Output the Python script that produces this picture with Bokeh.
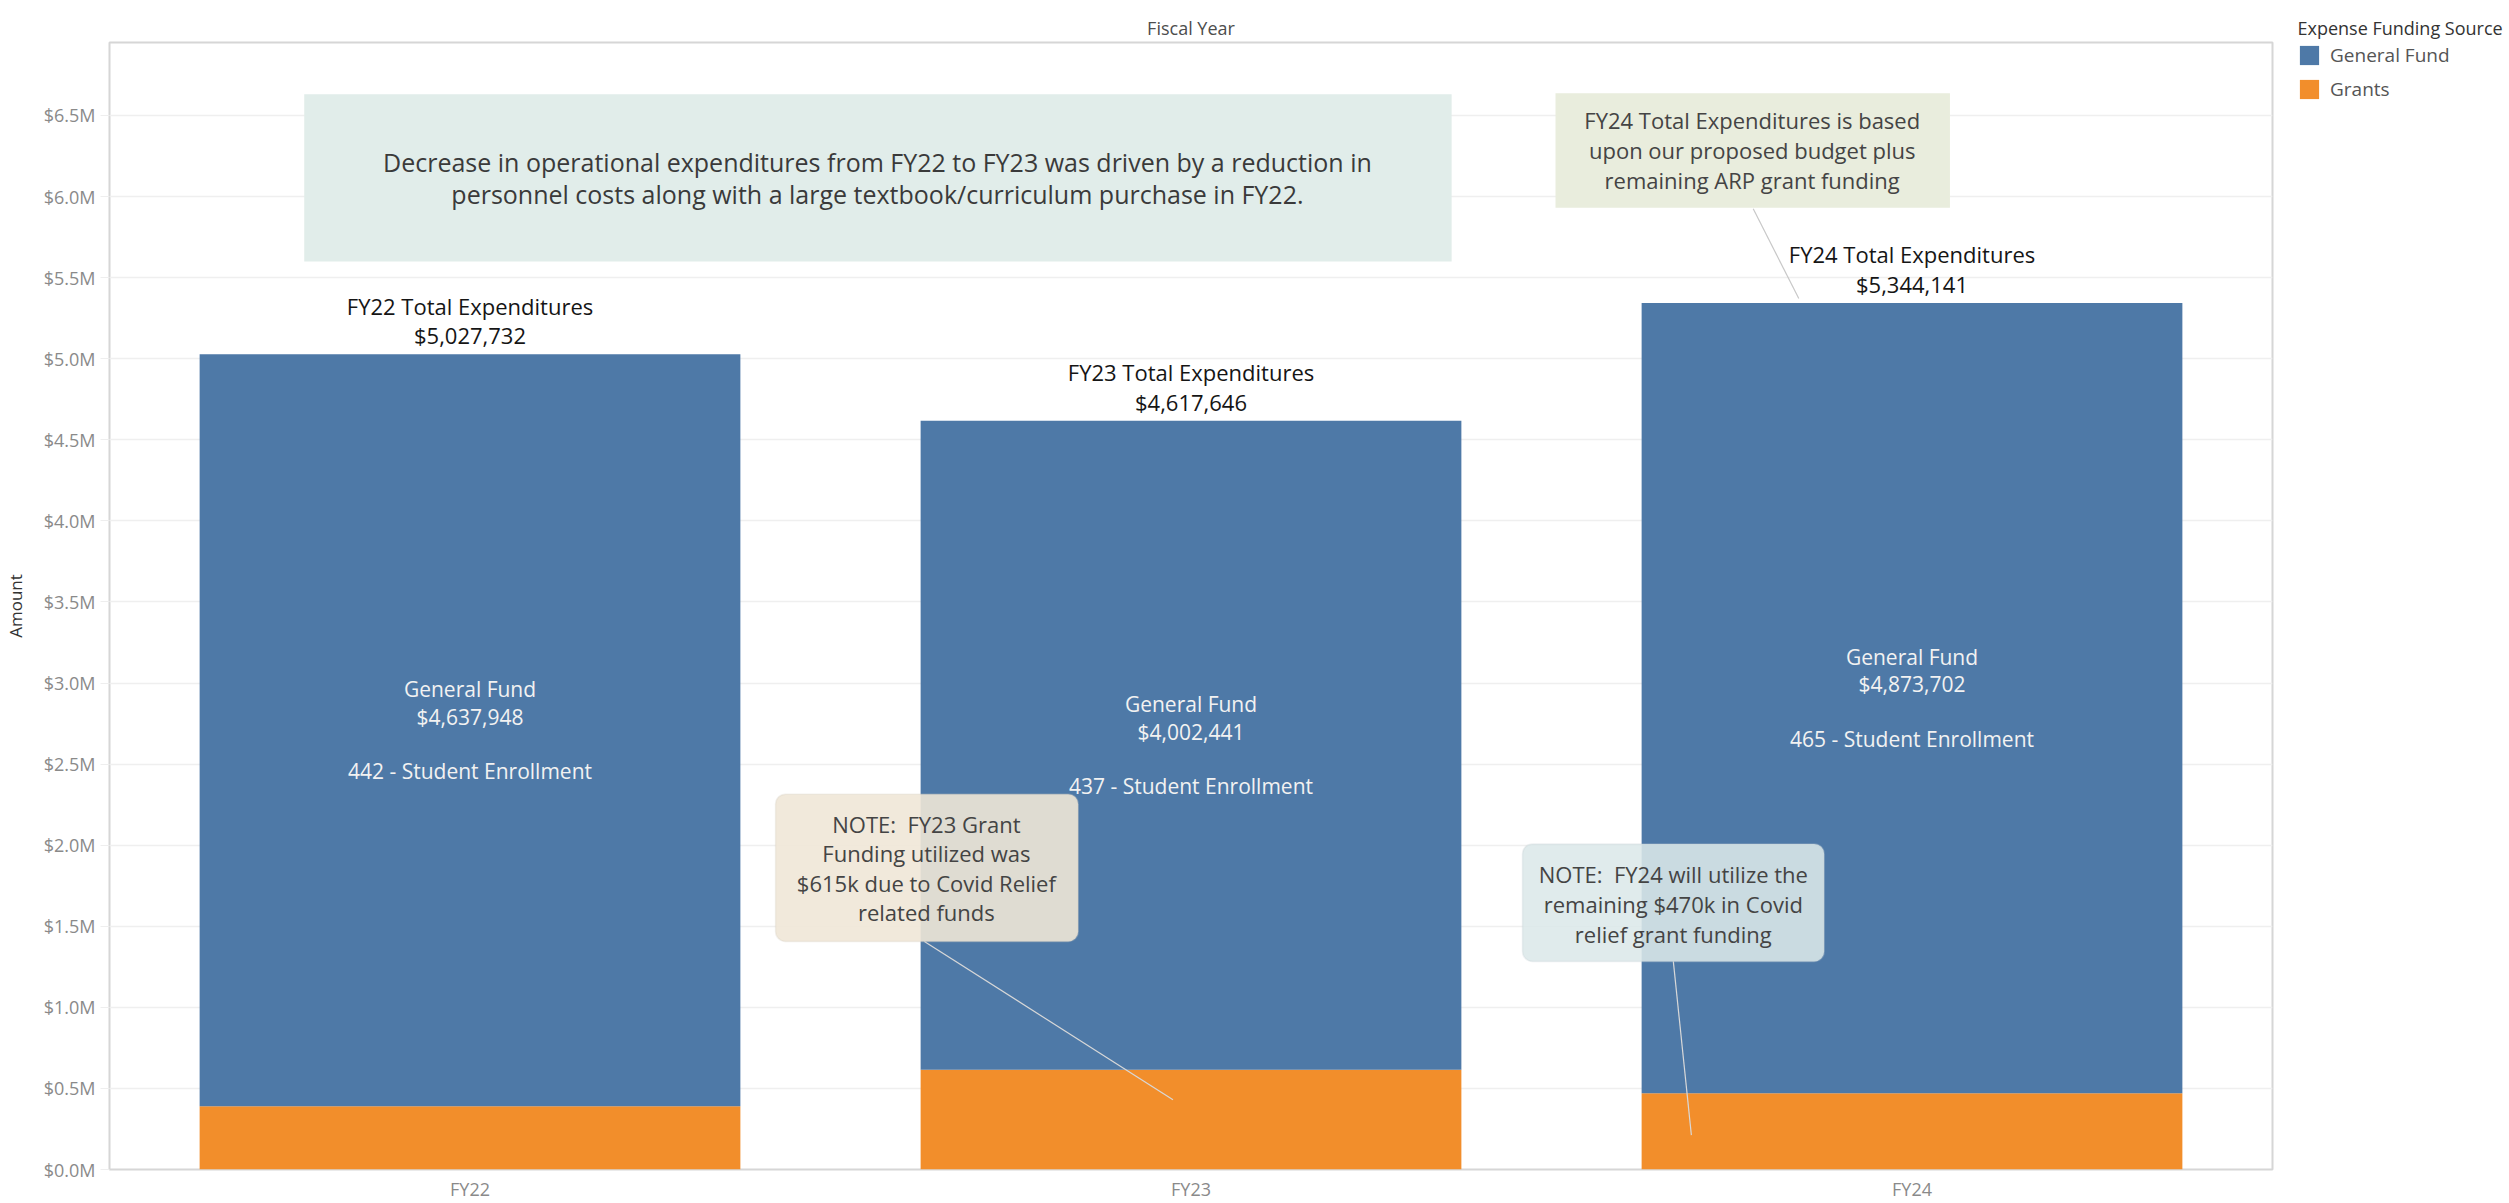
from bokeh.plotting import figure
from bokeh.layouts import row
from bokeh.models import (ColumnDataSource, FactorRange, Range1d, FixedTicker,
                          CustomJSTickFormatter, BoxAnnotation, Label, Arrow,
                          Legend, LegendItem)
from bokeh.core.properties import value
from bokeh.embed import file_html
from bokeh.resources import INLINE

# ---------------- data ----------------
years = ["FY22", "FY23", "FY24"]
general_fund = [4637948, 4002441, 4873702]
grants = [389784, 615205, 470439]
totals = [5027732, 4617646, 5344141]
enrollment = [442, 437, 465]
y_ticks = [0, 500000, 1000000, 1500000, 2000000, 2500000, 3000000,
           3500000, 4000000, 4500000, 5000000, 5500000, 6000000, 6500000]
series_names = ["Grants", "General Fund"]

BLUE = "#4E79A7"
ORANGE = "#F28E2B"
FONT = "Open Sans"

# ---------------- layout (page pixels of the frame) ----------------
W, H = 2509, 1203
FL, FR, FT, FB = 106, 2272, 42, 1174
MAIN_W = FR + 2
Y_MAX = 6.95e6


def dx(px):
    return (px - FL) / (FR - FL) * len(years)


def dy(py):
    return (FB - py) / (FB - FT) * Y_MAX


gf_mid = [g + f / 2 for g, f in zip(grants, general_fund)]
gf_text = ["General Fund\n${:,}\n\n{} - Student Enrollment".format(f, e)
           for f, e in zip(general_fund, enrollment)]
tot_text = ["{} Total Expenditures\n${:,}".format(y, t) for y, t in zip(years, totals)]

src = ColumnDataSource(dict(year=years, grants=grants, general_fund=general_fund,
                            gf_mid=gf_mid, gf_text=gf_text, total=totals,
                            tot_text=tot_text))

p = figure(x_range=FactorRange(factors=years, range_padding=0),
           y_range=Range1d(0, Y_MAX), width=MAIN_W, height=H,
           title="Fiscal Year",
           output_backend="svg", toolbar_location=None,
           min_border_left=FL, min_border_top=FT,
           min_border_right=MAIN_W - FR, min_border_bottom=H - FB)
p.background_fill_color = "white"
p.border_fill_color = "white"
p.outline_line_color = "#d6d6d6"
p.outline_line_width = 2

# header
p.title.align = "center"
p.title.text_font = FONT
p.title.text_font_size = "18px"
p.title.text_font_style = "normal"
p.title.text_color = "#4d4d4d"
p.title.standoff = 6

# bars
rs = p.vbar_stack(["grants", "general_fund"], x="year", width=0.75, source=src,
                  fill_color=[ORANGE, BLUE], line_color=None)

# y axis
p.yaxis.ticker = FixedTicker(ticks=y_ticks)
p.yaxis.formatter = CustomJSTickFormatter(code="return '$' + (tick/1e6).toFixed(1) + 'M';")
p.yaxis.axis_line_color = None
p.yaxis.major_tick_line_color = "#eeeeee"
p.yaxis.major_tick_out = 9
p.yaxis.major_tick_in = 0
p.yaxis.minor_tick_line_color = None
p.yaxis.major_label_standoff = 5
p.yaxis.major_label_text_font = FONT
p.yaxis.major_label_text_font_size = "18px"
p.yaxis.major_label_text_color = "#8a8a8a"
p.yaxis.axis_label = "Amount"
p.yaxis.axis_label_text_font = FONT
p.yaxis.axis_label_text_font_size = "17px"
p.yaxis.axis_label_text_font_style = "normal"
p.yaxis.axis_label_text_color = "#333333"
p.yaxis.axis_label_standoff = 14

# x axis
p.xaxis.axis_line_color = None
p.xaxis.major_tick_line_color = None
p.xaxis.major_tick_out = 0
p.xaxis.major_label_standoff = 7
p.xaxis.major_label_text_font = FONT
p.xaxis.major_label_text_font_size = "18px"
p.xaxis.major_label_text_color = "#8a8a8a"

p.xgrid.grid_line_color = None
p.ygrid.grid_line_color = "#efefef"
p.ygrid.grid_line_width = 1.5

# labels inside / above bars
p.text(x="year", y="gf_mid", text="gf_text", source=src,
       text_font=value(FONT), text_font_size="21px", text_color="#f2f2f2",
       text_align="center", text_baseline="middle", text_line_height=0.98)
p.text(x="year", y="total", text="tot_text", source=src,
       text_font=value(FONT), text_font_size="22px", text_color="#151515",
       text_align="center", text_baseline="bottom", text_line_height=0.99,
       y_offset=-4)

# ---------------- callouts ----------------
p.add_layout(BoxAnnotation(left=dx(301), right=dx(1450), top=dy(94), bottom=dy(262),
                           fill_color="#E1EDEA", fill_alpha=1.0, line_color=None))
p.add_layout(Label(x=dx(875), y=dy(178),
                   text="Decrease in operational expenditures from FY22 to FY23 was driven by a reduction in\n"
                        "personnel costs along with a large textbook/curriculum purchase in FY22.",
                   text_font=FONT, text_font_size="25px", text_color="#3a3a3a",
                   text_align="center", text_baseline="middle", text_line_height=0.94))

# FY24 total note
p.add_layout(Arrow(x_start=dx(1752), y_start=dy(209), x_end=2.343,
                   y_end=totals[2] + 27000, end=None,
                   line_color="#c8c8c8", line_width=1.2))
p.add_layout(BoxAnnotation(left=dx(1554), right=dx(1949), top=dy(93), bottom=dy(208),
                           fill_color="#E9EDDD", fill_alpha=1.0, line_color=None))
p.add_layout(Label(x=dx(1751), y=dy(150),
                   text="FY24 Total Expenditures is based\nupon our proposed budget plus\nremaining ARP grant funding",
                   text_font=FONT, text_font_size="22px", text_color="#444444",
                   text_align="center", text_baseline="middle", text_line_height=0.99))

# FY23 grant note
p.add_layout(Arrow(x_start=dx(922), y_start=dy(945), x_end=1.475,
                   y_end=grants[1] * 0.7, end=None,
                   line_color="#d8d8d8", line_width=1.2))
p.add_layout(BoxAnnotation(left=dx(773), right=dx(1076), top=dy(797), bottom=dy(945),
                           fill_color="#F0E7D7", fill_alpha=0.9,
                           line_color="#d3ccbf", line_width=1.5, border_radius=10))
p.add_layout(Label(x=dx(924), y=dy(871),
                   text="NOTE:\u00a0 FY23 Grant\nFunding utilized was\n$615k due to Covid Relief\nrelated funds",
                   text_font=FONT, text_font_size="22px", text_color="#444444",
                   text_align="center", text_baseline="middle", text_line_height=0.98))

# FY24 grant note
p.add_layout(Arrow(x_start=dx(1672), y_start=dy(965), x_end=2.194,
                   y_end=grants[2] * 0.45, end=None,
                   line_color="#d8d8d8", line_width=1.2))
p.add_layout(BoxAnnotation(left=dx(1521), right=dx(1823), top=dy(847), bottom=dy(965),
                           fill_color="#DCE8E9", fill_alpha=0.88,
                           line_color="#c6d2d4", line_width=1.5, border_radius=10))
p.add_layout(Label(x=dx(1672), y=dy(907),
                   text="NOTE:\u00a0 FY24 will utilize the\nremaining $470k in Covid\nrelief grant funding",
                   text_font=FONT, text_font_size="22px", text_color="#444444",
                   text_align="center", text_baseline="middle", text_line_height=1.0))

# ---------------- legend (separate narrow panel on the right) ----------------
LEG_W = W - MAIN_W
lg = figure(width=LEG_W, height=H, x_range=Range1d(0, 1), y_range=Range1d(0, 1),
            x_axis_type=None, y_axis_type=None, title="Expense Funding Source",
            output_backend="svg", toolbar_location=None,
            min_border_left=2297 - MAIN_W, min_border_top=FT,
            min_border_right=0, min_border_bottom=H - FB)
lg.title.align = "left"
lg.title.text_font = FONT
lg.title.text_font_size = "18px"
lg.title.text_font_style = "normal"
lg.title.text_color = "#333333"
lg.title.standoff = 6
lg.outline_line_color = None
lg.background_fill_color = "white"
lg.border_fill_color = "white"
lg.xgrid.visible = False
lg.ygrid.visible = False
# legend swatches (zero-height proxies carrying the series colours)
swatch_gf = lg.vbar(x=[0], top=[0], width=0, fill_color=BLUE, line_color=None)
swatch_gr = lg.vbar(x=[0], top=[0], width=0, fill_color=ORANGE, line_color=None)

legend = Legend(items=[LegendItem(label=series_names[1], renderers=[swatch_gf]),
                       LegendItem(label=series_names[0], renderers=[swatch_gr])],
                location="top_left",
                label_text_font=FONT, label_text_font_size="19px",
                label_text_color="#555555", label_standoff=9,
                glyph_width=24, glyph_height=24, label_height=26, spacing=8,
                padding=0, margin=0, border_line_color=None,
                background_fill_alpha=0)
lg.add_layout(legend)

layout = row(p, lg, spacing=0)
open("out.html", "w").write(file_html(layout, INLINE))
